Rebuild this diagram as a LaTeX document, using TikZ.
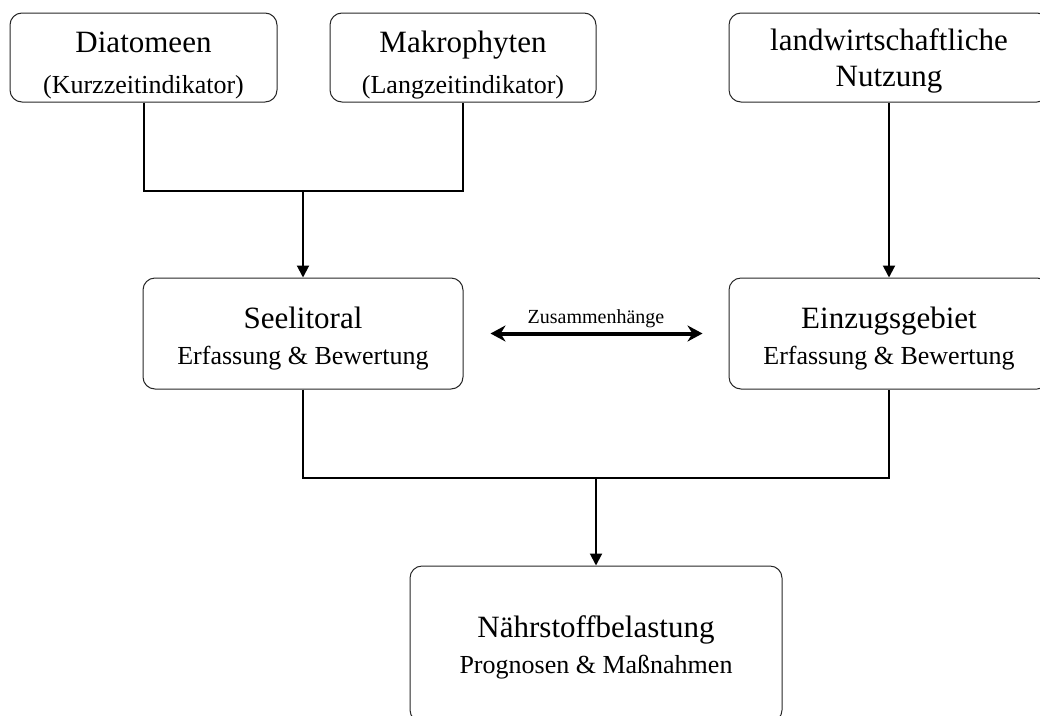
\documentclass[tikz,border=0pt]{standalone}
\usepackage{fontspec}
\setmainfont{Liberation Serif}
\usepackage{tikz}
\usetikzlibrary{arrows.meta,positioning,calc}

\newcommand{\boxhead}[1]{{\fontsize{31}{36}\selectfont #1}}

\begin{document}
\begin{tikzpicture}[x=1pt, y=-1pt,
  box/.style={draw=black!85, line width=1pt, rounded corners=12pt, align=center,
    inner sep=0pt, font=\fontsize{26}{36}\selectfont},
  topbox/.style={box, minimum height=89pt},
  midbox/.style={box, minimum height=111pt},
  link/.style={draw, line width=2pt},
  flow/.style={link, -{Triangle[length=12pt,width=12pt]}},
  both/.style={draw, line width=4pt,
    {Stealth[length=15pt,width=16pt]}-{Stealth[length=15pt,width=16pt]}}]
  \useasboundingbox (0,0) rectangle (1040,715);

  % indicators and land use
  \node[topbox, minimum width=267pt, text height=77pt] (dia) at (143.5,57.5)
    {\boxhead{Diatomeen}\\[5pt](Kurzzeitindikator)};
  \node[topbox, minimum width=266pt, text height=77pt] (makro) at (463,57.5)
    {\boxhead{Makrophyten}\\[5pt](Langzeitindikator)};
  \node[topbox, minimum width=320pt, text height=65pt] (landw) at (889,57.5)
    {\boxhead{landwirtschaftliche}\\\boxhead{Nutzung}};

  % assessment
  \node[midbox, minimum width=320pt, text height=68pt] (see) at (303,333.5)
    {\boxhead{Seelitoral}\\Erfassung \& Bewertung};
  \node[midbox, minimum width=320pt, text height=68pt] (einz) at (889,333.5)
    {\boxhead{Einzugsgebiet}\\Erfassung \& Bewertung};

  % result
  \node[box, minimum width=372pt, minimum height=156pt, text height=65pt] (naehr) at (596,644)
    {\boxhead{Nährstoffbelastung}\\Prognosen \& Maßnahmen};

  \coordinate (topjoin) at (303,191);
  \coordinate (lowjoin) at (596,478);

  \draw[link] (dia.south) |- (topjoin) -| (makro.south);
  \draw[flow] (topjoin) -- (see.north);
  \draw[flow] (landw.south) -- (einz.north);
  \draw[link] (see.south) |- (lowjoin) -| (einz.south);
  \draw[flow] (lowjoin) -- (naehr.north);
  \draw[both, shorten <=27pt, shorten >=26pt] (see.east) -- (einz.west)
    node[midway, above=2pt, inner sep=2pt, font=\fontsize{20}{24}\selectfont] (zus) {Zusammenhänge};
\end{tikzpicture}
\end{document}
